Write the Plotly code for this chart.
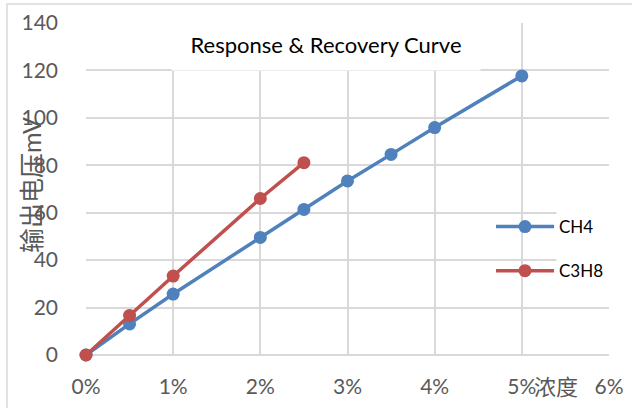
import plotly.graph_objects as go

x_ch4 = [0, 0.005, 0.01, 0.02, 0.025, 0.03, 0.035, 0.04, 0.05]
y_ch4 = [0, 13.1, 25.7, 49.6, 61.4, 73.4, 84.6, 95.9, 117.7]
x_c3h8 = [0, 0.005, 0.01, 0.02, 0.025]
y_c3h8 = [0, 16.7, 33.3, 66.0, 81.1]

BLUE = "#4F81BD"
RED = "#C0504D"
GRID = "#D9D9D9"
TXT = "#595959"
FONT = "Lato, 'Noto Sans CJK SC', sans-serif"

W, H = 632, 408
L, R, T, B = 86, 23, 23, 53
PW, PH = W - L - R, H - T - B

def px(xp):
    return (xp - L) / PW

def py(yp):
    return (H - B - yp) / PH

fig = go.Figure()
fig.add_trace(go.Scatter(x=x_ch4, y=y_ch4, name="CH4", mode="lines+markers",
                         line=dict(color=BLUE, width=3.5), marker=dict(size=13, color=BLUE),
                         cliponaxis=False, legendgroup="a"))
fig.add_trace(go.Scatter(x=x_c3h8, y=y_c3h8, name="C3H8", mode="lines+markers",
                         line=dict(color=RED, width=3.5), marker=dict(size=13, color=RED),
                         cliponaxis=False, legendgroup="b"))

fig.update_layout(
    width=W, height=H,
    margin=dict(l=L, r=R, t=T, b=B, autoexpand=False),
    paper_bgcolor="white", plot_bgcolor="white",
    font=dict(family=FONT, color=TXT),
    showlegend=True,
    legend=dict(x=px(491), y=py(209), xanchor="left", yanchor="top",
                bgcolor="rgba(0,0,0,0)", font=dict(size=17, color="#000000"),
                itemwidth=58, traceorder="grouped", tracegroupgap=19),
    xaxis=dict(range=[0, 0.06], dtick=0.01, tickformat=".0%", showgrid=True,
               gridcolor=GRID, gridwidth=1.5, zeroline=False, showline=False,
               automargin=False,
               tickfont=dict(size=21, color=TXT), ticklabelstandoff=17, fixedrange=True),
    yaxis=dict(range=[0, 140], dtick=20, showgrid=True, gridcolor=GRID, gridwidth=1.5,
               zeroline=True, zerolinecolor=GRID, zerolinewidth=1.5, showline=False,
               automargin=False,
               tickfont=dict(size=21, color=TXT), ticklabelstandoff=27, fixedrange=True),
    shapes=[
        dict(type="rect", xref="paper", yref="paper", x0=px(7), x1=px(660),
             y0=py(440), y1=py(4), line=dict(color=GRID, width=1.5), layer="below"),
        dict(type="rect", xref="paper", yref="paper", x0=px(476), x1=px(496),
             y0=py(67), y1=py(19), line=dict(color="white", width=1),
             fillcolor="white", opacity=1, layer="above"),
        dict(type="rect", xref="paper", yref="paper", x0=px(557), x1=px(640),
             y0=py(297), y1=py(193), line=dict(color="white", width=1),
             fillcolor="white", opacity=1, layer="above"),
    ],
    annotations=[
        dict(text="Response & Recovery Curve", xref="paper", yref="paper",
             x=px(326), y=py(44), xanchor="center", yanchor="middle",
             width=306, height=49, bgcolor="white", align="center",
             showarrow=False, font=dict(size=22, color="#000000")),
        dict(text="输出电压mV", xref="paper", yref="paper", x=px(31), y=py(185),
             xanchor="center", yanchor="middle",
             textangle=-90, showarrow=False, font=dict(size=25, color=TXT)),
        dict(text="浓度", xref="paper", yref="paper", x=px(556), y=py(386),
             xanchor="center", yanchor="middle",
             showarrow=False, font=dict(size=22, color=TXT)),
    ],
)

fig.write_html("out.html", config={"displayModeBar": False},
               post_script="document.body.style.margin='0';")
